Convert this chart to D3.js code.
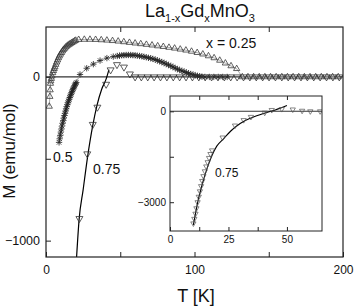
<!DOCTYPE html>
<html>
<head>
<meta charset="utf-8">
<script src="https://cdn.jsdelivr.net/npm/d3@7"></script>
<style>
  body { margin: 0; background: #fff; }
  svg { display: block; font-family: "Liberation Sans", Arial, sans-serif; }
</style>
</head>
<body>
<div id="chart"></div>
<script>
// x = 0.25 sample, open up-triangles  [T (K), M (emu/mol)]
const x025 = [
  [2.2,-180],[2.6,-120],[2.8,-80],[3.0,-40],[3.2,-25],[3.6,-10],[4.0,5],[4.5,25],[5.0,38],[5.5,50],
  [6.0,61],[6.6,76],[7.2,90],[7.8,103],[8.4,116],[9.0,127],[9.7,138],[10.4,148],[11.1,158],[11.8,167],
  [12.5,174],[13.3,182],[14.1,188],[14.9,194],[15.7,199],[16.5,204],[17.4,209],[18.3,214],[19.2,219],[20.0,223],
  [22,228],[25.8,229],[29.6,229],[33.4,228],[37.2,226],[41,224],[44.8,221],[48.6,218],[52.4,214],[56.2,210],
  [60,206],[63.8,202],[67.6,198],[71.4,194],[75.2,189],[79,185],[82.8,180],[86.6,175],[90.4,169],[94.2,163],
  [98,156],[101.8,148],[105.6,139],[109.4,128],[113.2,116],[117,101],[120.8,84],[124.6,67],[128.4,50],
  [132.2,0],[136,0],[139.8,0],[143.6,0],[147.4,0],[151.2,0],[155,0],[158.8,0],[162.6,0],[166.4,0],
  [170.2,0],[174,0],[177.8,0],[181.6,0],[185.4,0],[189.2,0],[193,0],[196.8,0]
];

// x = 0.5 sample, asterisks
const x050 = [
  [8.8,-400],[9.2,-378],[9.6,-357],[10.0,-337],[10.4,-318],[10.8,-300],[11.2,-283],[11.6,-267],[12.0,-251],[12.4,-236],
  [12.8,-222],[13.2,-208],[13.6,-195],[14.0,-182],[14.4,-170],[14.8,-158],[15.2,-147],[15.6,-136],[16.0,-126],[16.4,-116],
  [16.8,-106],[17.2,-97],[17.6,-88],[18.0,-79],[18.4,-71],[18.8,-63],[19.2,-55],[19.6,-48],[20.0,-41],[20.4,-34],
  [22.9,15],[27.4,53],[31.9,78],[36.4,100],[41,115],[45.3,124],
  [48,128],[49.5,130],[51,132],[52.5,133],[54,134],[55.5,134],[57,134],[58.5,133],[60,132],[61.5,130],
  [63,128],[64.5,126],[66,123],[67.5,120],[69,117],[70.5,114],[72,110],[73.5,106],[75,101],[76.5,96],
  [78,91],[79.5,85],[81,79],[82.5,73],[84,67],[85.5,61],[87,54],[88.5,48],[90,42],[91.5,37],
  [93,32],[94.5,27],[96,22],[97.5,18],[99,14],[100.5,10],[102,7],[103.5,4],[105,2],[107,0],
  [110,0],[113,0],[116,0],[119,0],[122,0]
];

// x = 0.75 sample, open down-triangles
const x075 = [
  [10.0,-3700],[10.4,-3550],[10.9,-3380],[11.3,-3200],[11.8,-3000],[12.3,-2820],[12.8,-2640],[13.3,-2470],
  [13.8,-2300],[14.3,-2140],[14.9,-1980],[15.5,-1820],[16.1,-1680],[16.7,-1540],[17.3,-1410],[18.0,-1290],
  [22.5,-865],[27.8,-470],[31.5,-290],[34.6,-185],[40.5,-45],[43.5,43],[47.8,75],[52.5,60],[56.5,18],[60,0],
  [64.2,0],[68.5,0],[72.8,0],[77.1,0],[81.4,0],[85.7,0],[90,0],[94.3,0],[98.6,0],[102.9,0],
  [107.2,0],[111.5,0],[115.8,0],[120.1,0],[124.4,0],[128.7,0],[133,0],[137.3,0],[141.6,0],[145.9,0],
  [150.2,0],[154.5,0],[158.8,0],[163.1,0],[167.4,0],[171.7,0],[176,0],[180.3,0],[184.6,0],[188.9,0],
  [193.2,0],[197.5,0]
];

// fitted curves for x = 0.75
const fitMain = [[20.6,-1100],[22.3,-870],[25,-690],[28,-488],[31.4,-300],[34.3,-175],[37.5,-75],[40.4,-15],[42.4,45]];
const fitInset = [[10,-3750],[12,-2950],[14,-2350],[16,-1850],[18,-1450],[20,-1150],[23,-900],[26,-650],
  [30,-400],[35,-210],[40,-70],[45,45],[50,190]];

const mainXTicks = [0, 50, 100, 150, 200], mainXLabels = [0, 100, 200];
const mainYTicks = [0, -500, -1000], mainYLabels = [0, -1000];
const insetXTicks = [0, 12.5, 25, 37.5, 50], insetXLabels = [0, 25, 50];
const insetYTicks = [0, -1500, -3000], insetYLabels = [0, -3000];

const W = 354, H = 307;
const svg = d3.select("#chart").append("svg").attr("width", W).attr("height", H);

const main = { l: 46, r: 343, t: 27, b: 257 };
const x = d3.scaleLinear().domain([0, 200]).range([main.l, main.r]);
const y = d3.scaleLinear().domain([-1100, 305]).range([main.b, main.t]);

svg.append("clipPath").attr("id", "clipMain")
  .append("rect").attr("x", main.l).attr("y", main.t).attr("width", main.r - main.l).attr("height", main.b - main.t);

// custom 8-spoke asterisk
const star = {
  draw(ctx, size) {
    const r = Math.sqrt(size) / 2, k = r * 0.707;
    ctx.moveTo(-r, 0); ctx.lineTo(r, 0);
    ctx.moveTo(0, -r); ctx.lineTo(0, r);
    ctx.moveTo(-k, -k); ctx.lineTo(k, k);
    ctx.moveTo(-k, k); ctx.lineTo(k, -k);
  }
};

function axisText(sel, size) {
  sel.select(".domain").remove();
  sel.selectAll("text").style("font-size", size + "px").attr("fill", "#111")
    .style("font-family", "'Liberation Sans', Arial, sans-serif");
  sel.selectAll("line").attr("stroke", "#222");
}
const fmt = labels => d => labels.includes(d) ? d3.format("d")(d) : "";

// main axes
svg.append("g").attr("transform", `translate(0,${main.b})`)
  .call(d3.axisBottom(x).tickValues(mainXTicks).tickFormat(fmt(mainXLabels)).tickSizeInner(-5).tickSizeOuter(0).tickPadding(8))
  .call(g => axisText(g, 12));
svg.append("g").attr("transform", `translate(0,${main.t})`)
  .call(d3.axisTop(x).tickValues(mainXTicks.slice(1, -1)).tickFormat("").tickSizeInner(-5).tickSizeOuter(0))
  .call(g => axisText(g, 12));
svg.append("g").attr("transform", `translate(${main.l},0)`)
  .call(d3.axisLeft(y).tickValues(mainYTicks).tickFormat(fmt(mainYLabels)).tickSizeInner(-5).tickSizeOuter(0).tickPadding(6))
  .call(g => axisText(g, 12.5));

const plot = svg.append("g").attr("clip-path", "url(#clipMain)");

// zero line
plot.append("line").attr("x1", main.l).attr("x2", main.r).attr("y1", y(0)).attr("y2", y(0))
  .attr("stroke", "#333").attr("stroke-width", 1.3);

const line = d3.line().x(d => x(d[0])).y(d => y(d[1]));

plot.append("path").datum(x025).attr("d", line).attr("fill", "none").attr("stroke", "#aaa").attr("stroke-width", 1);
plot.append("path").datum(x050).attr("d", line).attr("fill", "none").attr("stroke", "#999").attr("stroke-width", 1);

plot.selectAll(".m025").data(x025).enter().append("path").attr("class", "m025")
  .attr("transform", d => `translate(${x(d[0])},${y(d[1])})`)
  .attr("d", d3.symbol(d3.symbolTriangle, 17))
  .attr("fill", "none").attr("stroke", "#3a3a3a").attr("stroke-width", 0.8);

plot.selectAll(".m050").data(x050).enter().append("path").attr("class", "m050")
  .attr("transform", d => `translate(${x(d[0])},${y(d[1])})`)
  .attr("d", d3.symbol(star, 40))
  .attr("fill", "none").attr("stroke", "#222").attr("stroke-width", 0.8);

plot.append("path").datum(fitMain).attr("d", line.curve(d3.curveMonotoneX))
  .attr("fill", "none").attr("stroke", "#000").attr("stroke-width", 1.2);
line.curve(d3.curveLinear);

plot.selectAll(".m075").data(x075).enter().append("path").attr("class", "m075")
  .attr("transform", d => `translate(${x(d[0])},${y(d[1])}) rotate(180)`)
  .attr("d", d3.symbol(d3.symbolTriangle, 21))
  .attr("fill", "none").attr("stroke", "#333").attr("stroke-width", 0.8);

// frame
svg.append("rect").attr("x", main.l).attr("y", main.t).attr("width", main.r - main.l).attr("height", main.b - main.t)
  .attr("fill", "none").attr("stroke", "#222").attr("stroke-width", 1.2);

// labels inside main plot
svg.append("text").attr("x", 206).attr("y", 48).text("x = 0.25").style("font-size", "14px").attr("fill", "#111");
svg.append("text").attr("x", 53).attr("y", 162).text("0.5").style("font-size", "14px").attr("fill", "#111");
svg.append("text").attr("x", 93).attr("y", 174).text("0.75").style("font-size", "14px").attr("fill", "#111");

// title
const title = svg.append("text").attr("x", 145).attr("y", 17).style("font-size", "18px").attr("fill", "#111");
title.append("tspan").text("La");
title.append("tspan").attr("dy", 5).style("font-size", "11px").text("1-x");
title.append("tspan").attr("dy", -5).text("Gd");
title.append("tspan").attr("dy", 5).style("font-size", "11px").text("x");
title.append("tspan").attr("dy", -5).text("MnO");
title.append("tspan").attr("dy", 5).style("font-size", "11px").text("3");

// axis titles
svg.append("text").attr("x", 196).attr("y", 302).attr("text-anchor", "middle")
  .style("font-size", "18px").attr("fill", "#111").text("T [K]");
svg.append("text").attr("transform", "translate(15,151) rotate(-90)").attr("text-anchor", "middle")
  .style("font-size", "17px").attr("fill", "#111").text("M (emu/mol)");

// inset
const ins = { l: 170, r: 322, t: 96, b: 231 };
const xi = d3.scaleLinear().domain([0, 65]).range([ins.l, ins.r]);
const yi = d3.scaleLinear().domain([-3950, 505]).range([ins.b, ins.t]);

svg.append("rect").attr("x", ins.l).attr("y", ins.t).attr("width", ins.r - ins.l).attr("height", ins.b - ins.t)
  .attr("fill", "#fff");
svg.append("clipPath").attr("id", "clipInset")
  .append("rect").attr("x", ins.l).attr("y", ins.t).attr("width", ins.r - ins.l).attr("height", ins.b - ins.t);

svg.append("g").attr("transform", `translate(0,${ins.b})`)
  .call(d3.axisBottom(xi).tickValues(insetXTicks).tickFormat(fmt(insetXLabels)).tickSizeInner(-4).tickSizeOuter(0).tickPadding(5))
  .call(g => axisText(g, 10));
svg.append("g").attr("transform", `translate(0,${ins.t})`)
  .call(d3.axisTop(xi).tickValues(insetXTicks.slice(1)).tickFormat("").tickSizeInner(-4).tickSizeOuter(0))
  .call(g => axisText(g, 10));
svg.append("g").attr("transform", `translate(${ins.l},0)`)
  .call(d3.axisLeft(yi).tickValues(insetYTicks).tickFormat(fmt(insetYLabels)).tickSizeInner(-4).tickSizeOuter(0).tickPadding(4))
  .call(g => axisText(g, 10));

const ip = svg.append("g").attr("clip-path", "url(#clipInset)");
ip.append("line").attr("x1", ins.l).attr("x2", ins.r).attr("y1", yi(0)).attr("y2", yi(0))
  .attr("stroke", "#333").attr("stroke-width", 1.1);

const iline = d3.line().x(d => xi(d[0])).y(d => yi(d[1])).curve(d3.curveMonotoneX);
ip.append("path").datum(fitInset).attr("d", iline).attr("fill", "none").attr("stroke", "#000").attr("stroke-width", 1.1);

ip.selectAll(".i075").data(x075).enter().append("path").attr("class", "i075")
  .attr("transform", d => `translate(${xi(d[0])},${yi(d[1])}) rotate(180)`)
  .attr("d", d3.symbol(d3.symbolTriangle, 12))
  .attr("fill", "none").attr("stroke", "#555").attr("stroke-width", 0.7);

svg.append("rect").attr("x", ins.l).attr("y", ins.t).attr("width", ins.r - ins.l).attr("height", ins.b - ins.t)
  .attr("fill", "none").attr("stroke", "#222").attr("stroke-width", 1);

svg.append("text").attr("x", 215).attr("y", 177).text("0.75").style("font-size", "12px").attr("fill", "#111");
</script>
</body>
</html>
